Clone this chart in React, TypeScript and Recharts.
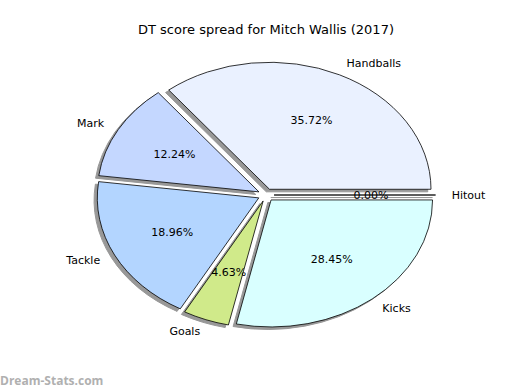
import { PieChart, Pie } from "recharts";

const names = ["Hitout", "Handballs", "Mark", "Tackle", "Goals", "Kicks"];
const values = [0, 35.72, 12.24, 18.96, 4.63, 28.45];
const colors = ["#f0f4ff", "#eaf1ff", "#c4d7ff", "#b3d5ff", "#d0ea8a", "#d9ffff"];

const data = names.map((name, i) => ({ name, value: values[i] }));

// matplotlib-style stretched pie (axes not equal)
const RY = 127;
const X_STRETCH = 161.5 / 127;
const EXPLODE = 0.05;
const RAD = Math.PI / 180;

const wedgePath = (cx: number, cy: number, r: number, a0: number, a1: number) => {
  const rx = r * X_STRETCH;
  const ry = r;
  const x0 = cx + rx * Math.cos(a0 * RAD);
  const y0 = cy - ry * Math.sin(a0 * RAD);
  const x1 = cx + rx * Math.cos(a1 * RAD);
  const y1 = cy - ry * Math.sin(a1 * RAD);
  if (Math.abs(a1 - a0) < 1e-6) return `M${cx},${cy}L${x0},${y0}Z`;
  const large = a1 - a0 > 180 ? 1 : 0;
  return `M${cx},${cy}L${x0},${y0}A${rx},${ry} 0 ${large} 0 ${x1},${y1}Z`;
};

const shifted = (p: any) => {
  const m = p.midAngle * RAD;
  return {
    cx: p.cx + EXPLODE * p.outerRadius * X_STRETCH * Math.cos(m),
    cy: p.cy - EXPLODE * p.outerRadius * Math.sin(m),
  };
};

const renderShadow = (p: any) => {
  const c = shifted(p);
  const ox = -0.02 * p.outerRadius * X_STRETCH;
  const oy = 0.02 * p.outerRadius;
  return (
    <path
      key={`s-${p.index}`}
      d={wedgePath(c.cx + ox, c.cy + oy, p.outerRadius, p.startAngle, p.endAngle)}
      fill="#333"
      stroke="#333"
      strokeWidth={1}
      opacity={0.5}
    />
  );
};

const renderWedge = (p: any) => {
  const c = shifted(p);
  const m = p.midAngle * RAD;
  const r = p.outerRadius;
  const cos = Math.cos(m);
  const sin = Math.sin(m);
  return (
    <g key={`w-${p.index}`}>
      <path
        d={wedgePath(c.cx, c.cy, r, p.startAngle, p.endAngle)}
        fill={colors[p.index]}
        stroke="#000"
        strokeWidth={0.8}
      />
      <text
        x={c.cx + 1.1 * r * X_STRETCH * cos}
        y={c.cy - 1.1 * r * sin}
        textAnchor={cos >= 0 ? "start" : "end"}
        dominantBaseline="central"
        fontSize={11}
        fill="#000"
      >
        {p.name}
      </text>
      <text
        x={c.cx + 0.6 * r * X_STRETCH * cos}
        y={c.cy - 0.6 * r * sin}
        textAnchor="middle"
        dominantBaseline="central"
        fontSize={11}
        fill="#000"
      >
        {(p.percent * 100).toFixed(2)}%
      </text>
    </g>
  );
};

const margin = { top: 0, right: 0, bottom: 0, left: 0 };

export default function App() {
  return (
    <div
      style={{
        position: "absolute",
        left: 0,
        top: 0,
        width: 520,
        height: 390,
        background: "#fff",
        fontFamily: "DejaVu Sans",
      }}
    >
      <div
        style={{
          position: "absolute",
          top: 22,
          left: 0,
          width: 532,
          textAlign: "center",
          fontSize: 13,
          color: "#000",
        }}
      >
        DT score spread for Mitch Wallis (2017)
      </div>
      <PieChart width={520} height={390} margin={margin} style={{ fontFamily: "DejaVu Sans" }}>
        <Pie
          data={data}
          dataKey="value"
          nameKey="name"
          cx={266}
          cy={195}
          outerRadius={RY}
          startAngle={0}
          endAngle={360}
          fill="none"
          stroke="none"
          label={renderShadow}
          labelLine={false}
          isAnimationActive={false}
        />
        <Pie
          data={data}
          dataKey="value"
          nameKey="name"
          cx={266}
          cy={195}
          outerRadius={RY}
          startAngle={0}
          endAngle={360}
          fill="none"
          stroke="none"
          label={renderWedge}
          labelLine={false}
          isAnimationActive={false}
        />
      </PieChart>
      <div
        style={{
          position: "absolute",
          left: 0,
          top: 372,
          fontSize: 12,
          fontWeight: "bold",
          color: "#b0b0b0",
          fontFamily: "Open Sans",
        }}
      >
        Dream-Stats.com
      </div>
    </div>
  );
}
